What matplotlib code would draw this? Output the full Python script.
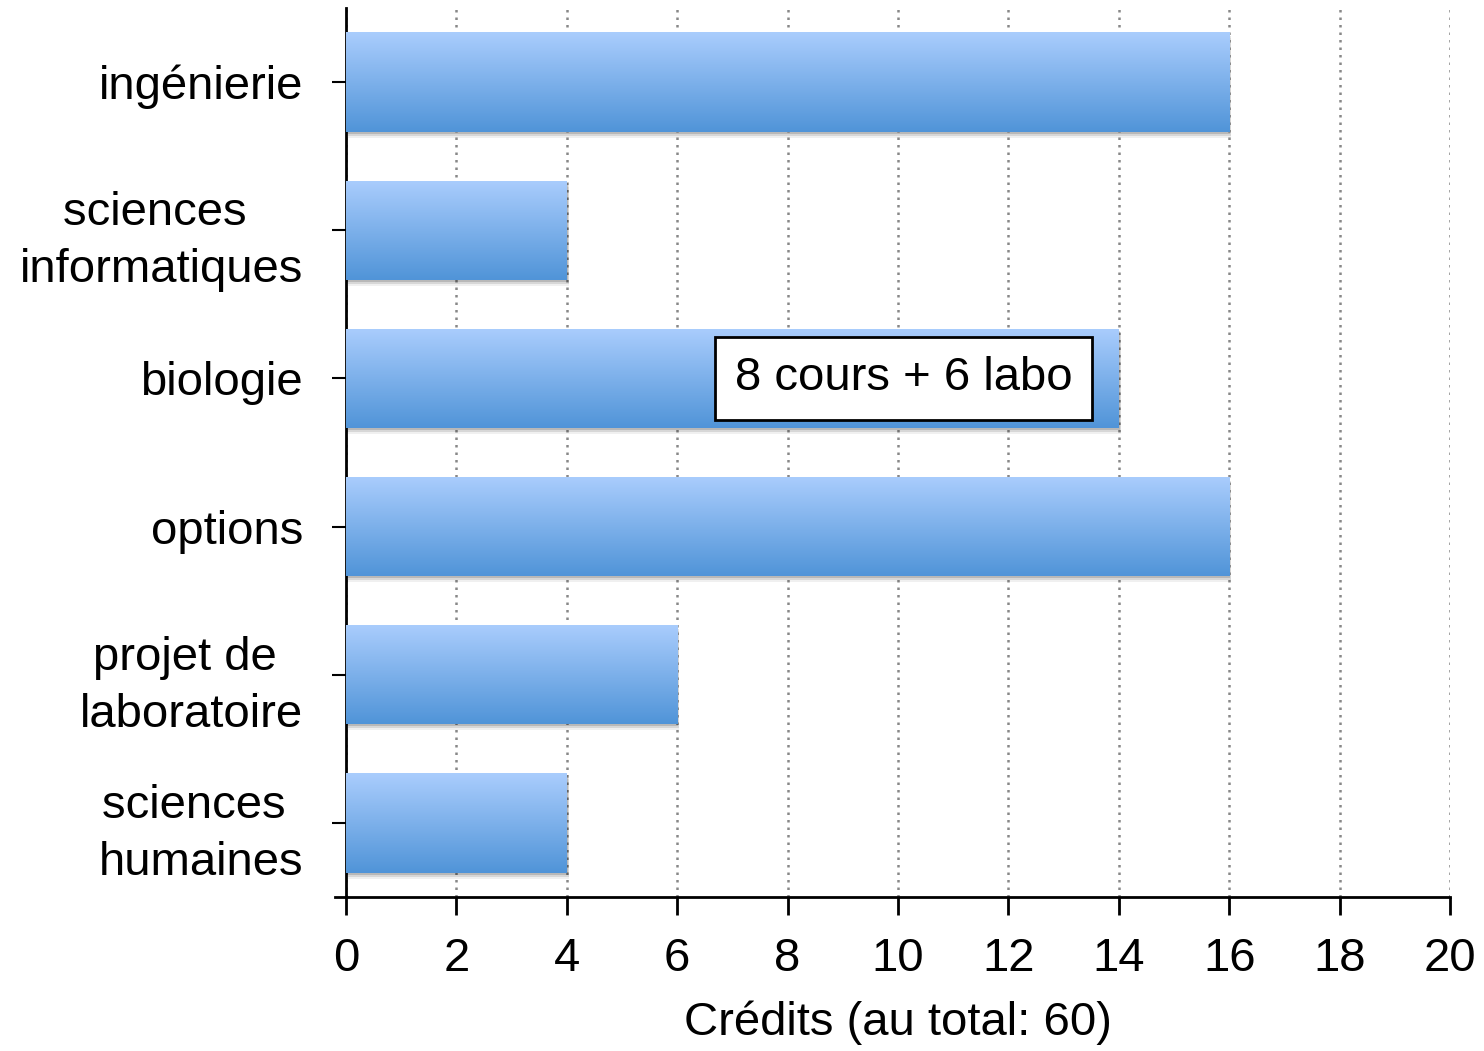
import numpy as np
import matplotlib
matplotlib.use("Agg")
import matplotlib.pyplot as plt
from matplotlib.colors import LinearSegmentedColormap
from matplotlib.patches import Rectangle
import matplotlib.transforms as mtransforms

plt.rcParams['font.family'] = ['Liberation Sans', 'DejaVu Sans']

categories = ["ingénierie", "sciences \ninformatiques", "biologie", "options",
              "projet de \nlaboratoire", "sciences \nhumaines"]
credits = [16, 4, 14, 16, 6, 4]
xticks = [0, 2, 4, 6, 8, 10, 12, 14, 16, 18, 20]
xlabel = "Crédits (au total: 60)"
annotation = "8 cours + 6 labo"
annot_category = 2
annot_x = 10.1

fig = plt.figure(figsize=(14.84, 10.51), dpi=100)
ax = fig.add_axes([346/1484, 154/1051, (1450-346)/1484, (1043-154)/1051])

ypos = np.arange(len(categories))
bar_h = 0.67
bars = ax.barh(ypos, credits, height=bar_h, color='none', edgecolor='none', zorder=3)

cmap = LinearSegmentedColormap.from_list("grad", ["#aacdfd", "#5094d8"])
grad = np.linspace(0, 1, 256).reshape(-1, 1)

for b in bars:
    x0, y0 = b.get_x(), b.get_y()
    w, h = b.get_width(), b.get_height()
    # soft shadow
    for dx, dy, a in [(2, -6, 0.06), (2, -4, 0.10), (1, -2, 0.14)]:
        off = mtransforms.offset_copy(ax.transData, fig=fig, x=dx, y=dy, units='dots')
        ax.add_patch(Rectangle((x0, y0), w, h, transform=off, facecolor='#000000',
                               alpha=a, edgecolor='none', zorder=2))
    im = ax.imshow(grad, cmap=cmap, aspect='auto', extent=(x0, x0 + w, y0 + h, y0),
                   zorder=3, interpolation='bicubic')
    im.set_clip_path(b)

ax.set_xlim(0, 20)
ax.set_ylim(len(categories) - 0.5, -0.5)
ax.set_xticks(xticks)
ax.set_yticks(ypos)
ax.set_yticklabels(categories, fontsize=34, ha='right', linespacing=1.38,
                   multialignment='center')
ax.set_xticklabels([str(t) for t in xticks], fontsize=34)
ax.set_xlabel(xlabel, fontsize=34, labelpad=14)

ax.xaxis.grid(True, linestyle=(0, (1, 2)), color='#888888', linewidth=1.8, zorder=0)
ax.set_axisbelow(True)

for s in ['top', 'right']:
    ax.spines[s].set_visible(False)
for s in ['left', 'bottom']:
    ax.spines[s].set_linewidth(2)
    ax.spines[s].set_color('black')
ax.tick_params(axis='y', length=10, width=1.5, pad=21)
ax.tick_params(axis='x', length=13, width=2, pad=16)
ax.plot([-0.01, 0], [0, 0], transform=ax.transAxes, color='black', lw=2, clip_on=False)

ax.text(annot_x, annot_category, annotation, fontsize=34, ha='center', va='center',
        zorder=5, bbox=dict(boxstyle='square,pad=0.42', facecolor='white',
                            edgecolor='black', linewidth=2))

fig.savefig("out.png", dpi=100)
